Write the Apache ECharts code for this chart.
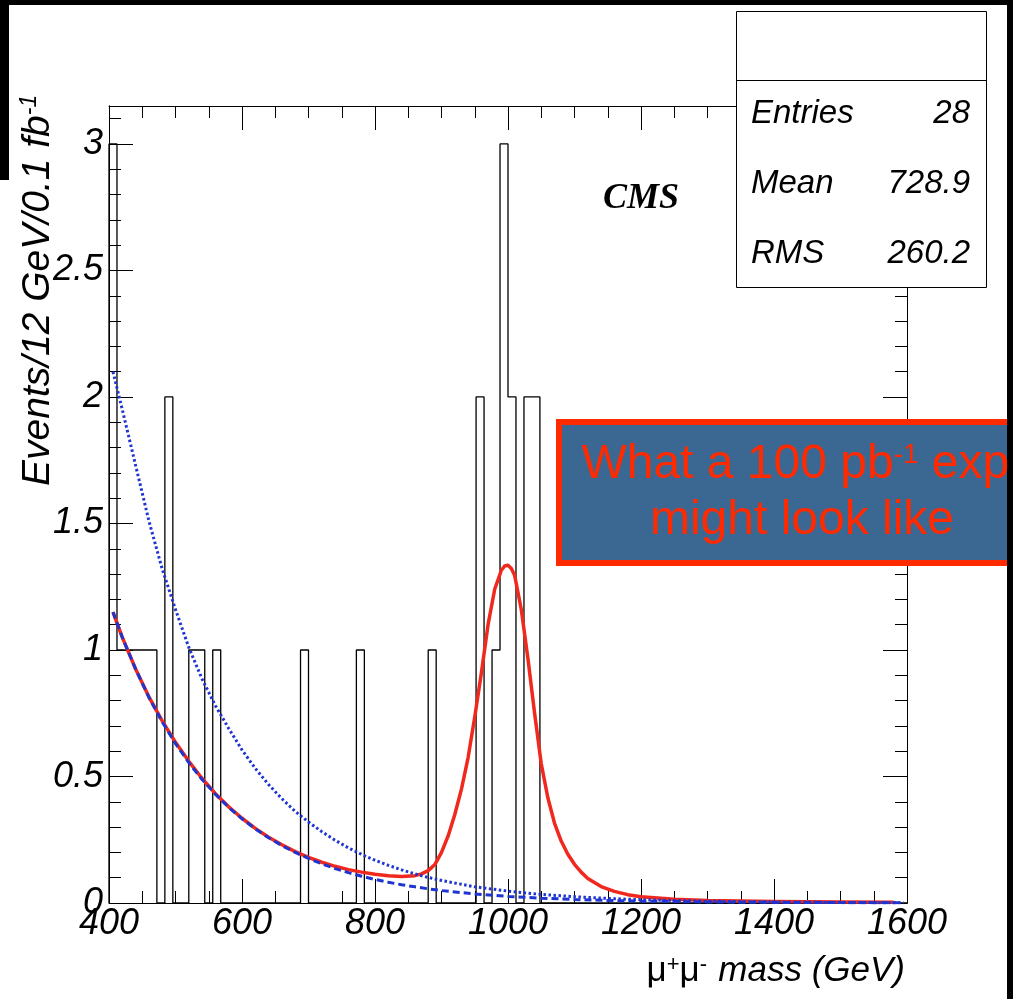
<!DOCTYPE html>
<html><head><meta charset="utf-8">
<script src="https://cdn.jsdelivr.net/npm/echarts@6/dist/echarts.min.js"></script>
<style>html,body{margin:0;padding:0;background:#fff}#c{width:1013px;height:999px}</style>
</head><body><div id="c"></div>
<script>
// ---- data ----
const binLow = 400, binWidth = 12;            // histogram binning (GeV)
const binCounts = [
  3,1,1,1,1,1,0,2,0,0,
  1,1,0,1,0,0,0,0,0,0,
  0,0,0,0,1,0,0,0,0,0,
  0,1,0,0,0,0,0,0,0,0,
  1,0,0,0,0,0,2,0,1,3,
  2,0,2,2,0,0,0,0,0,0,
  0,0,0,0,0,0,0,0,0,0,
  0,0,0,0,0,0,0,0,0,0,
  0,0,0,0,0,0,0,0,0,0,
  0,0,0,0,0,0,0,0,0,0
];
// total fit (signal + background), red solid
const fitX = [406,420,440,460,480,500,520,540,560,580,600,620,640,660,680,700,720,740,760,780,800,820,840,860,870,880,890,900,910,920,930,940,950,960,970,980,990,995,1000,1005,1010,1020,1030,1040,1050,1060,1070,1080,1090,1100,1110,1120,1140,1160,1180,1200,1250,1300,1400,1500,1580];
const fitTotal = [1.15,1.05,0.925,0.815,0.72,0.635,0.56,0.492,0.432,0.38,0.335,0.295,0.26,0.23,0.203,0.18,0.161,0.145,0.132,0.122,0.114,0.108,0.105,0.108,0.115,0.128,0.152,0.2,0.265,0.35,0.45,0.575,0.735,0.91,1.1,1.24,1.315,1.332,1.335,1.322,1.295,1.16,0.965,0.75,0.55,0.415,0.315,0.245,0.193,0.153,0.122,0.097,0.065,0.046,0.033,0.025,0.015,0.01,0.006,0.004,0.003];
// background curves (blue dashed = fitted background, blue dotted = alternative background)
const bkgX = [406,420,440,460,480,500,520,540,560,580,600,620,640,660,680,700,720,740,760,780,800,820,840,860,880,900,950,1000,1050,1100,1150,1200,1300,1400,1500,1595];
const bkgFit = [1.15,1.05,0.925,0.813,0.716,0.63,0.555,0.488,0.43,0.378,0.333,0.293,0.258,0.227,0.2,0.176,0.155,0.136,0.12,0.106,0.093,0.082,0.072,0.064,0.056,0.049,0.036,0.026,0.019,0.014,0.01,0.0075,0.004,0.0025,0.0015,0.001];
const bkgAlt = [2.1,1.95,1.73,1.51,1.32,1.16,1.01,0.885,0.78,0.69,0.605,0.532,0.468,0.412,0.362,0.32,0.282,0.248,0.218,0.192,0.169,0.149,0.131,0.115,0.101,0.089,0.064,0.047,0.034,0.025,0.018,0.013,0.007,0.0037,0.002,0.001];
const xTickValues = [400,600,800,1000,1200,1400,1600];
const yTickValues = [0,0.5,1,1.5,2,2.5,3];
const statsNames = ['Entries','Mean','RMS'];
const statsValues = ['28','728.9','260.2'];

// ---- helpers ----
function hasFont(f){
  const ctx=document.createElement('canvas').getContext('2d');
  const s='1000 mmmWwiil';
  ctx.font='40px monospace'; const a=ctx.measureText(s).width;
  ctx.font='40px "'+f+'", monospace'; const b=ctx.measureText(s).width;
  return Math.abs(a-b)>0.5;
}
const narrow = hasFont('Liberation Sans Narrow');
const tickFamily = narrow ? '"Liberation Sans Narrow"' : '"Liberation Sans"';
const tickSize = narrow ? 42 : 36;
const titleFamily = tickFamily;
const titleSize = narrow ? 42 : 35;

const histPts = [[binLow,0]];
binCounts.forEach((c,i)=>histPts.push([binLow+i*binWidth,c]));
histPts.push([binLow+binCounts.length*binWidth,0]);
const zip=(xs,ys)=>xs.map((x,i)=>[x,ys[i]]);

const XMIN=400, XMAX=1600, YMIN=0, YMAX=3.15;
const black='#000';
const labelStyle={color:black,fontStyle:'italic',fontFamily:tickFamily,fontSize:tickSize};

function xAxisCfg(pos,labels){
  return {type:'value',position:pos,min:XMIN,max:XMAX,interval:200,
    axisLine:{show:true,onZero:false,lineStyle:{color:black,width:1}},
    axisTick:{show:true,inside:true,length:24,lineStyle:{color:black,width:1}},
    minorTick:{show:true,splitNumber:4,length:12,lineStyle:{color:black,width:1}},
    splitLine:{show:false},
    axisLabel:labels?Object.assign({show:true,margin:3,
      formatter:v=>xTickValues.indexOf(v)>=0?String(v):''},labelStyle):{show:false}};
}
function yAxisCfg(pos,interval,len,labels){
  return {type:'value',position:pos,min:YMIN,max:YMAX,interval:interval,
    axisLine:{show:true,onZero:false,lineStyle:{color:black,width:1}},
    axisTick:{show:true,inside:true,length:len,lineStyle:{color:black,width:1}},
    splitLine:{show:false},
    axisLabel:labels?Object.assign({show:true,margin:6,showMaxLabel:false,
      formatter:v=>yTickValues.some(t=>Math.abs(t-v)<1e-6)?String(v):''},labelStyle):{show:false}};
}

const chart = echarts.init(document.getElementById('c'),null,{renderer:'canvas'});
const sans='"Liberation Sans", Arial, sans-serif';
const statFont='italic 33px '+sans;
const option = {
  animation:false,
  backgroundColor:'#fff',
  grid:{left:109,right:106,top:106,bottom:96,containLabel:false},
  xAxis:[xAxisCfg('bottom',true),xAxisCfg('top',false)],
  yAxis:[yAxisCfg('left',0.5,24,true),yAxisCfg('left',0.1,12,false),
         yAxisCfg('right',0.5,24,false),yAxisCfg('right',0.1,12,false)],
  series:[
    {name:'data',type:'line',step:'end',data:histPts,symbol:'none',clip:false,silent:true,
     lineStyle:{color:black,width:1.3},z:2},
    {name:'total',type:'line',data:zip(fitX,fitTotal),symbol:'none',smooth:false,silent:true,
     lineStyle:{color:'#f0281e',width:3.5,join:'round'},z:3},
    {name:'bkg',type:'line',data:zip(bkgX,bkgFit),symbol:'none',smooth:false,silent:true,
     lineStyle:{color:'#1f35d1',width:3,type:[7,4]},z:4},
    {name:'bkgAlt',type:'line',data:zip(bkgX,bkgAlt),symbol:'none',smooth:false,silent:true,
     lineStyle:{color:'#1f35d1',width:3,type:[2.5,2.5]},z:5}
  ],
  graphic:{elements:[
    // CMS label
    {type:'text',x:641,y:199,z:50,style:{text:'CMS',font:'italic bold 36px "Liberation Serif", serif',fill:black,
      textAlign:'center',textVerticalAlign:'middle'}},
    // stats box
    {type:'rect',z:100,shape:{x:736.5,y:11.5,width:250,height:276},style:{fill:'#fff',stroke:black,lineWidth:1}},
    {type:'line',z:101,shape:{x1:736.5,y1:80.5,x2:986.5,y2:80.5},style:{stroke:black,lineWidth:1}},
    ...statsNames.map((n,i)=>({type:'text',z:102,x:751,y:114+i*70,style:{text:n,
      font:statFont,fill:black,textAlign:'left',textVerticalAlign:'middle'}})),
    ...statsValues.map((v,i)=>({type:'text',z:102,x:970,y:114+i*70,style:{text:v,
      font:statFont,fill:black,textAlign:'right',textVerticalAlign:'middle'}})),
    // annotation box
    {type:'rect',z:110,shape:{x:559,y:422,width:500,height:141},style:{fill:'#3a6892',stroke:'#ff2a00',lineWidth:6}},
    {type:'text',z:111,x:802,y:465,style:{text:'{a|What a 100 pb}{s|-1}{a| expt}',fill:'#ff2a00',
      textAlign:'center',textVerticalAlign:'middle',
      rich:{a:{fontSize:48,fontFamily:sans,fill:'#ff2a00',color:'#ff2a00'},
            s:{fontSize:28,fontFamily:sans,fill:'#ff2a00',color:'#ff2a00',verticalAlign:'top'}}}},
    {type:'text',z:111,x:802,y:521,style:{text:'might look like',font:'48px '+sans,fill:'#ff2a00',
      textAlign:'center',textVerticalAlign:'middle'}},
    // x title
    {type:'text',z:50,x:905,y:971,style:{text:'mass (GeV)',font:'italic '+titleSize+'px '+titleFamily,fill:black,
      textAlign:'right',textVerticalAlign:'middle'}},
    {type:'text',z:50,x:707,y:971,style:{text:'{m|μ}{s|+}{m|μ}{s|-}',fill:black,textAlign:'right',textVerticalAlign:'middle',
      rich:{m:{fontSize:titleSize,fontFamily:titleFamily,color:black,fill:black},
            s:{fontSize:22,fontFamily:titleFamily,color:black,fill:black,verticalAlign:'top'}}}},
    // y title
    {type:'text',z:50,x:38,y:486,rotation:Math.PI/2,style:{text:'{a|Events/12 GeV/0.1 fb}{s|-1}',fill:black,
      textAlign:'left',textVerticalAlign:'middle',
      rich:{a:{fontSize:39,fontStyle:'italic',fontFamily:sans,color:black,fill:black},
            s:{fontSize:23,fontStyle:'italic',fontFamily:sans,color:black,fill:black,verticalAlign:'top'}}}},
    // black borders of the slide
    {type:'rect',z:200,shape:{x:0,y:0,width:1013,height:5},style:{fill:black}},
    {type:'rect',z:200,shape:{x:0,y:0,width:9,height:180},style:{fill:black}},
    {type:'rect',z:200,shape:{x:1007,y:0,width:6,height:999},style:{fill:black}}
  ]}
};
chart.setOption(option);
</script>
</body></html>
